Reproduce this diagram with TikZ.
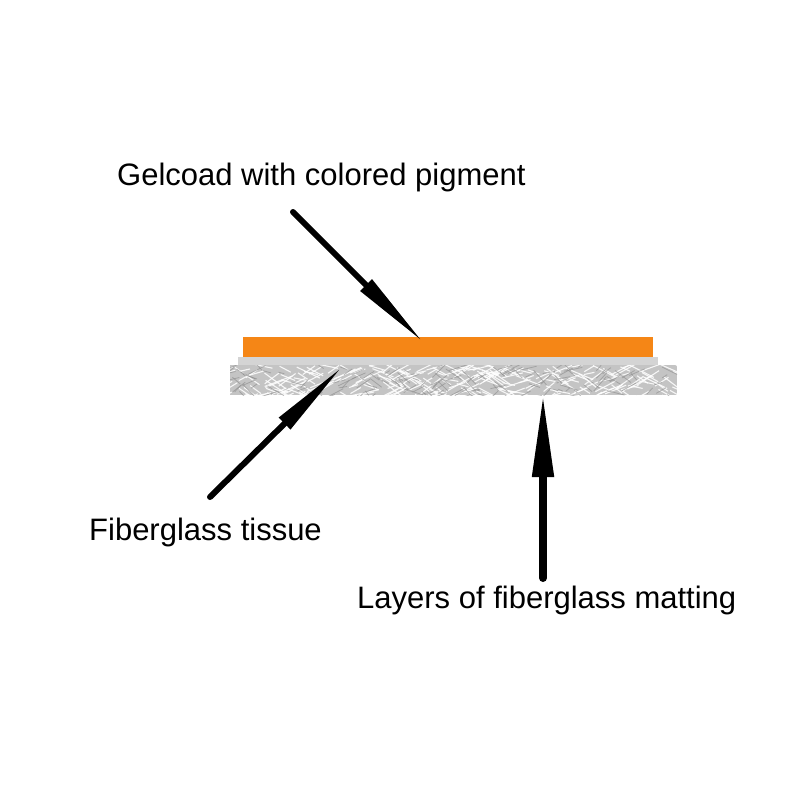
\documentclass[tikz,border=0pt]{standalone}
\usepackage{fontspec}
\setmainfont{Liberation Sans}
\usetikzlibrary{arrows.meta}
\definecolor{gelorange}{RGB}{245,134,22}
\definecolor{tissuegray}{RGB}{212,212,212}
\definecolor{matgray}{RGB}{196,196,196}
\tikzset{
  lbl/.style={anchor=base west, inner sep=0pt, font=\fontsize{31}{36}\selectfont},
  pointer/.style={line cap=round, draw=black},
}
\begin{document}
\begin{tikzpicture}[x=1pt,y=-1pt]
\useasboundingbox[fill=white] (0,0) rectangle (800,800);
% layers
\fill[gelorange] (243,337) rectangle (653,357);
\fill[tissuegray] (238,357) rectangle (658,365);
\fill[matgray] (230,365) rectangle (677,395);
\begin{scope}
\clip (230,365) rectangle (677,395);
\pgfmathsetseed{7}
\foreach \i in {1,...,260}{
  \pgfmathsetmacro{\px}{230+rnd*447}
  \pgfmathsetmacro{\py}{362+rnd*36}
  \pgfmathsetmacro{\ang}{(rnd<0.5?25:155)+rnd*30-15}
  \pgfmathsetmacro{\len}{8+rnd*22}
  \draw[white, line width=1.1pt, opacity=0.85] (\px,\py) -- ++(\ang:\len);
}
\foreach \i in {1,...,160}{
  \pgfmathsetmacro{\px}{230+rnd*447}
  \pgfmathsetmacro{\py}{362+rnd*36}
  \pgfmathsetmacro{\ang}{(rnd<0.5?30:150)+rnd*40-20}
  \pgfmathsetmacro{\len}{5+rnd*15}
  \draw[black!45, line width=0.8pt, opacity=0.6] (\px,\py) -- ++(\ang:\len);
}
\end{scope}
% labels
\node[lbl] (gel) at (117,185) {Gelcoad with colored pigment};
\node[lbl] (tissue) at (89,540) {Fiberglass tissue};
\node[lbl] (mat) at (357,608) {Layers of fiberglass matting};
% pointer coordinates
\coordinate (gelTail) at (293,212);
\coordinate (gelTip) at (424,343);
\coordinate (tisTail) at (210,497);
\coordinate (tisTip) at (343,366);
\coordinate (matTail) at (543,578);
\coordinate (matTip) at (543,393);
% pointers
\draw[pointer, line width=6pt, -{Triangle[length=82pt,width=15pt]}] (gelTail) -- (gelTip);
\draw[pointer, line width=6pt, -{Triangle[length=82pt,width=15pt]}] (tisTail) -- (tisTip);
\draw[pointer, line width=8pt, -{Triangle[length=84pt,width=20pt]}] (matTail) -- (matTip);
\end{tikzpicture}
\end{document}
